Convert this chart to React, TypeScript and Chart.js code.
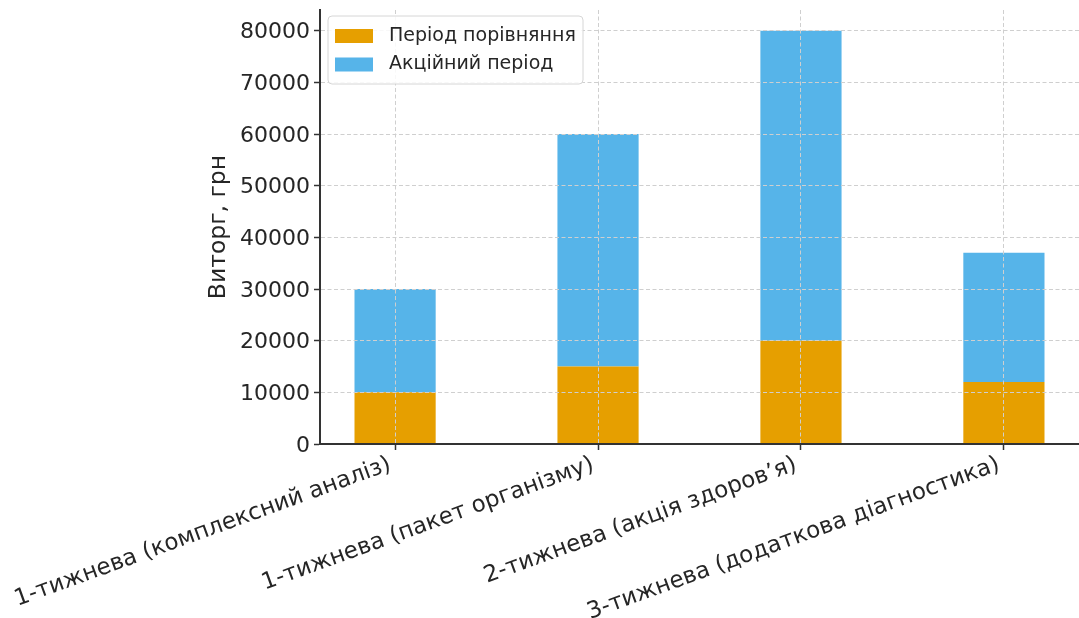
import React, { useEffect, useRef } from "react";
import { Chart, registerables } from "chart.js";

Chart.register(...registerables);

const categories = [
  "1-тижнева (комплексний аналіз)",
  "1-тижнева (пакет організму)",
  "2-тижнева (акція здоров’я)",
  "3-тижнева (додаткова діагностика)",
];
const comparisonLabel = "Період порівняння";
const promoLabel = "Акційний період";
const comparisonValues = [10000, 15000, 20000, 12000];
const promoValues = [20000, 45000, 60000, 25000];
const yTicks = [0, 10000, 20000, 30000, 40000, 50000, 60000, 70000, 80000];
const yTitle = "Виторг, грн";

const ORANGE = "#E69F00";
const BLUE = "#56B4E9";
const TEXT = "#262626";
const AXIS = "#333333";
const GRID = "#cfcfcf";
const FONT = "'DejaVu Sans', sans-serif";

const legendPlugin = {
  id: "innerLegend",
  afterDraw(chart: any) {
    const ctx = chart.ctx;
    const x = 328, y = 16, w = 255, h = 68, r = 4;
    ctx.save();
    ctx.beginPath();
    ctx.moveTo(x + r, y);
    ctx.lineTo(x + w - r, y);
    ctx.arcTo(x + w, y, x + w, y + r, r);
    ctx.lineTo(x + w, y + h - r);
    ctx.arcTo(x + w, y + h, x + w - r, y + h, r);
    ctx.lineTo(x + r, y + h);
    ctx.arcTo(x, y + h, x, y + h - r, r);
    ctx.lineTo(x, y + r);
    ctx.arcTo(x, y, x + r, y, r);
    ctx.closePath();
    ctx.fillStyle = "rgba(255,255,255,0.85)";
    ctx.fill();
    ctx.strokeStyle = "#d6d6d6";
    ctx.lineWidth = 1;
    ctx.stroke();
    const items = [
      { label: comparisonLabel, color: ORANGE, cy: 36 },
      { label: promoLabel, color: BLUE, cy: 64.5 },
    ];
    ctx.font = `19px ${FONT}`;
    ctx.textBaseline = "middle";
    ctx.textAlign = "left";
    for (const it of items) {
      ctx.fillStyle = it.color;
      ctx.fillRect(335, it.cy - 7, 38, 14);
      ctx.fillStyle = TEXT;
      ctx.fillText(it.label, 389, it.cy);
    }
    ctx.restore();
  },
};

export default function App() {
  const ref = useRef<HTMLCanvasElement>(null);
  useEffect(() => {
    if (!ref.current) return;
    const chart = new Chart(ref.current, {
      type: "bar",
      data: {
        datasets: [
          {
            label: comparisonLabel,
            data: comparisonValues.map((v, i) => ({ x: i, y: v })),
            backgroundColor: ORANGE,
            borderWidth: 0,
            barPercentage: 0.4,
            categoryPercentage: 1,
          },
          {
            label: promoLabel,
            data: promoValues.map((v, i) => ({ x: i, y: v })),
            backgroundColor: BLUE,
            borderWidth: 0,
            barPercentage: 0.4,
            categoryPercentage: 1,
          },
        ],
      },
      options: {
        responsive: false,
        animation: false,
        layout: { padding: { left: 201, top: 10, right: 0, bottom: 0 } },
        plugins: {
          legend: { display: false },
          tooltip: { enabled: false },
        },
        scales: {
          x: {
            type: "linear",
            stacked: true,
            offset: false,
            bounds: "data",
            min: -0.37,
            max: 3.37,
            afterBuildTicks: (scale: any) => {
              scale.ticks = categories.map((_, i) => ({ value: i }));
            },
            afterFit: (scale: any) => {
              scale.height = 174;
              scale.paddingLeft = 0;
              scale.paddingRight = 0;
            },
            ticks: {
              autoSkip: false,
              minRotation: 20,
              maxRotation: 20,
              padding: 1,
              labelOffset: -5,
              color: TEXT,
              font: { family: FONT, size: 23 },
              callback: (v: any) => categories[Math.round(Number(v))] ?? "",
            },
            grid: {
              offset: false,
              color: GRID,
              lineWidth: 1,
              z: 1,
              tickColor: AXIS,
              tickLength: 6,
              tickWidth: 1.5,
            },
            border: { color: AXIS, width: 2, dash: [4, 2.5], z: 2 },
          },
          y: {
            stacked: true,
            min: 0,
            max: 84000,
            afterBuildTicks: (scale: any) => {
              scale.ticks = yTicks.map((v) => ({ value: v }));
            },
            afterFit: (scale: any) => {
              scale.width = 119;
              scale.paddingTop = 0;
              scale.paddingBottom = 0;
            },
            title: {
              display: true,
              text: yTitle,
              color: TEXT,
              font: { family: FONT, size: 23.5 },
              padding: { top: 4, bottom: 4 },
            },
            ticks: {
              padding: 4,
              labelOffset: 2,
              color: TEXT,
              font: { family: FONT, size: 22 },
              callback: (v: any) => String(v),
            },
            grid: {
              color: GRID,
              lineWidth: 1,
              z: 1,
              tickColor: AXIS,
              tickLength: 6,
              tickWidth: 1.5,
            },
            border: { color: AXIS, width: 2, dash: [4, 2.5], z: 2 },
          },
        },
      },
      plugins: [legendPlugin],
    } as any);
    return () => chart.destroy();
  }, []);
  return (
    <div style={{ position: "fixed", left: 0, top: 0, width: 1079, height: 618, background: "#fff" }}>
      <canvas ref={ref} width={1079} height={618} />
    </div>
  );
}
